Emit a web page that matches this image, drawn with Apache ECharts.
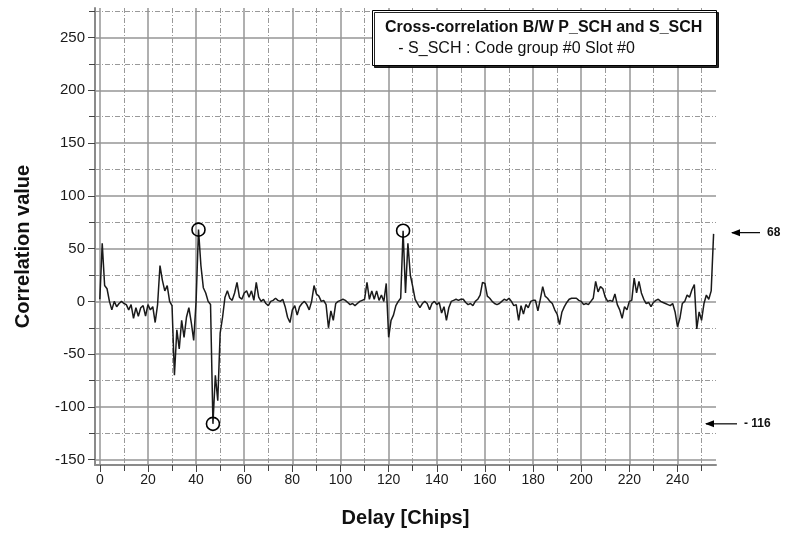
<!DOCTYPE html>
<html lang="en">
<head>
<meta charset="UTF-8">
<title>Cross-correlation</title>
<style>
    html, body { margin: 0; padding: 0; background: #fff; }
    #chart { width: 801px; height: 534px; }
</style>
</head>
<body>
<div id="chart"></div>
<script src="https://cdn.jsdelivr.net/npm/echarts@6/dist/echarts.min.js"></script>
<script>
    // correlation value per delay (chip 0..255)
    const correlation = [
        2, 55, 15, 12, 0, -8, 0, -5, -2, 0,
        -2, -3, -8, -3, -16, -6, -14, -6, -4, -14,
        -3, -8, -5, -20, -3, 34, 20, 10, 15, 0,
        -4, -70, -27, -45, -18, -34, -15, -6, -20, -37,
        0, 68, 34, 13, 8, 0, -3, -116, -70, -94,
        -30, -15, 4, 10, 3, 1, 8, 18, 4, 2,
        8, 10, 4, 10, 1, 18, 4, 0, 2, -2,
        -4, 0, 1, 3, 1, 0, 2, -5, -15, -20,
        -8, -4, -13, -5, -2, 0, -3, -8, 0, 15,
        7, 5, 0, 1, -3, -25, -9, -18, -2, 0,
        1, 2, 1, -1, -3, -2, -4, -2, 0, 1,
        2, 18, 2, 10, 2, 10, 1, 6, 0, 17,
        -34, -18, -13, -4, 0, 3, 67, 8, 55, 25,
        14, 2, -2, -6, -2, 0, -2, -8, -2, 0,
        -3, -1, -11, -5, -18, -6, 0, 1, 2, 1,
        2, 2, -1, -3, -2, -4, 0, 2, 6, 18,
        17, 5, 3, 0, -2, -3, -2, 0, 2, 1,
        3, 0, -4, -3, -18, -4, -12, -3, -6, 0,
        1, 1, -9, 2, 14, 5, 3, 0, -2, -8,
        -12, -22, -10, -5, -1, 2, 3, 3, 3, 1,
        0, -3, -2, -3, 0, 3, 19, 9, 14, 12,
        4, 0, 1, 0, 7, -3, -8, -16, -5, -8,
        0, 1, 22, 8, 19, 8, 2, -2, -1, -5,
        -1, 1, 2, 0, -1, -2, -3, -4, -2, -10,
        -24, -16, -2, 0, 6, 4, 11, 16, -26, -10,
        -18, -2, 6, 2, 10, 64
    ];
    const markedChips = [41, 47, 126];
    const sideNotes = [68, -116];
    const sideNoteLabels = ['68', '- 116'];

    const xMajorTicks = [0, 20, 40, 60, 80, 100, 120, 140, 160, 180, 200, 220, 240];
    const xMinorTicks = [10, 30, 50, 70, 90, 110, 130, 150, 170, 190, 210, 230, 250];
    const yMajorTicks = [-150, -100, -50, 0, 50, 100, 150, 200, 250];
    const yMinorTicks = [-125, -75, -25, 25, 75, 125, 175, 225, 275];

    const FONT = 'Liberation Sans, Arial, sans-serif';
    const dashDot = [5, 2, 1, 2];

    function axis(min, max, ticks, major, position) {
        return {
            type: 'value',
            min: min,
            max: max,
            position: position,
            axisLine: { show: major, onZero: false, lineStyle: { color: '#8a8a8a', width: 2 } },
            axisTick: { show: true, customValues: ticks, length: major ? 7 : 6, lineStyle: { color: '#444', width: 1 } },
            axisLabel: { show: major, customValues: ticks, fontSize: position === 'left' ? 15 : 14, color: '#1a1a1a', fontFamily: FONT, margin: position === 'left' ? 10 : 8 },
            splitLine: { show: true, lineStyle: major ? { color: '#969696', width: 1.5 } : { color: '#999', width: 1, type: dashDot } }
        };
    }

    const xMain = axis(-2, 256, xMajorTicks, true, 'bottom');
    xMain.name = 'Delay [Chips]';
    xMain.nameLocation = 'middle';
    xMain.nameGap = 43;
    xMain.nameTextStyle = { fontSize: 20, fontWeight: 'bold', color: '#111', fontFamily: FONT };

    const yMain = axis(-155, 278, yMajorTicks, true, 'left');
    yMain.name = 'Correlation value';
    yMain.nameLocation = 'middle';
    yMain.nameGap = 62;
    yMain.nameTextStyle = { fontSize: 20, fontWeight: 'bold', color: '#111', fontFamily: FONT, padding: [0, 20, 0, 0] };

    const chart = echarts.init(document.getElementById('chart'));
    chart.setOption({
        animation: false,
        backgroundColor: '#fff',
        grid: { left: 95, right: 85, top: 8, bottom: 69 },
        title: {
            text: 'Cross-correlation B/W P_SCH and S_SCH',
            subtext: '   - S_SCH : Code group #0 Slot #0',
            left: 372,
            top: 10,
            padding: [10, 14, 9, 13],
            itemGap: 5,
            backgroundColor: '#fff',
            borderColor: '#000',
            borderWidth: 1,
            shadowColor: 'rgba(0,0,0,0.85)',
            shadowOffsetX: 2,
            shadowOffsetY: 2,
            shadowBlur: 0,
            textStyle: { fontSize: 16, fontWeight: 'bold', color: '#111', fontFamily: FONT },
            subtextStyle: { fontSize: 16, color: '#111', fontFamily: FONT }
        },
        xAxis: [xMain, axis(-2, 256, xMinorTicks, false, 'bottom')],
        yAxis: [yMain, axis(-155, 278, yMinorTicks, false, 'left')],
        series: [{
            type: 'line',
            data: correlation.map((v, i) => [i, v]),
            symbol: 'none',
            lineStyle: { color: '#1a1a1a', width: 1.5 },
            markPoint: {
                symbol: 'circle',
                symbolSize: 13,
                silent: true,
                label: { show: false },
                itemStyle: { color: 'rgba(255,255,255,0)', borderColor: '#000', borderWidth: 1.6 },
                data: markedChips.map(c => ({ coord: [c, correlation[c]] }))
            }
        }]
    });

    // arrows at the right side pointing to the marked levels
    const arrowSpans = [[732, 760], [706, 737]];
    const notes = [];
    sideNotes.forEach((v, k) => {
        const y = chart.convertToPixel({ yAxisIndex: 0 }, v) + (k === 0 ? 3 : 0);
        const [x0, x1] = arrowSpans[k];
        notes.push({ type: 'line', shape: { x1: x0, y1: y, x2: x1, y2: y }, style: { stroke: '#000', lineWidth: 1.2 } });
        notes.push({ type: 'polygon', shape: { points: [[x0 - 1, y], [x0 + 8, y - 3.5], [x0 + 8, y + 3.5]] }, style: { fill: '#000' } });
        notes.push({ type: 'text', x: x1 + 7, y: y, style: { text: sideNoteLabels[k], font: 'bold 12px ' + FONT, fill: '#111', verticalAlign: 'middle' } });
    });
    chart.setOption({ graphic: notes });
</script>
</body>
</html>
